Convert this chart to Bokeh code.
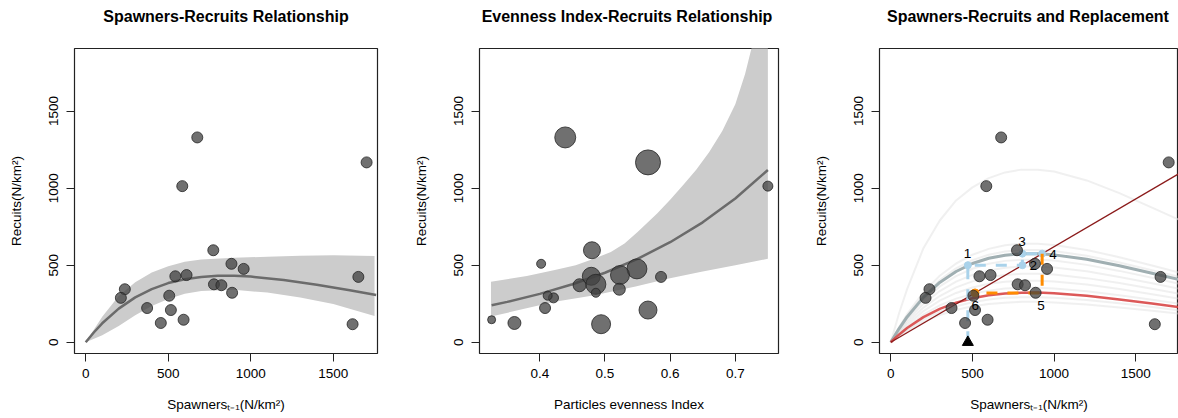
from bokeh.plotting import figure
from bokeh.layouts import row, column
from bokeh.models import Range1d, FixedTicker, ColumnDataSource
from bokeh.core.properties import value
from bokeh.embed import file_html
from bokeh.resources import INLINE

# ---------------- data ----------------
spawners = [676, 585, 1702, 773, 883, 957, 611, 543, 777, 822, 887, 1652, 237, 213, 506, 372, 516, 593, 455, 1617]
recruits = [1329, 1013, 1167, 597, 509, 476, 436, 428, 376, 370, 321, 424, 344, 288, 302, 222, 209, 146, 125, 117]
evenness = [0.439, 0.750, 0.566, 0.480, 0.402, 0.549, 0.523, 0.479, 0.486, 0.461, 0.486, 0.586, 0.522, 0.421, 0.412, 0.408, 0.566, 0.326, 0.361, 0.494]
bubble_px = [21, 10, 25, 17, 9, 20, 19, 18, 20, 13, 9, 11, 12, 10, 9, 11, 18, 8, 13, 19]

# panel 1: fitted curve and band
sr_fit_s = [0, 50, 100, 200, 300, 400, 500, 600, 700, 800, 900, 1000, 1200, 1400, 1600, 1760]
sr_fit_r = [0, 65, 123, 218, 291, 345, 384, 409, 424, 431, 431, 426, 404, 373, 337, 307]
sr_band_s = [0, 100, 200, 300, 400, 500, 600, 700, 900, 1100, 1300, 1500, 1750]
sr_band_lo = [0, 45, 105, 175, 235, 280, 315, 332, 340, 322, 290, 248, 170]
sr_band_hi = [0, 165, 300, 390, 452, 493, 523, 537, 548, 555, 562, 565, 560]

# panel 2: fitted curve and band
ev_fit_e = [0.326, 0.35, 0.40, 0.45, 0.50, 0.55, 0.60, 0.65, 0.70, 0.75]
ev_fit_r = [240, 262, 314, 376, 451, 541, 649, 778, 933, 1118]
ev_hi_e = [0.325, 0.38, 0.423, 0.455, 0.484, 0.509, 0.53, 0.55, 0.58, 0.60, 0.62, 0.64, 0.66,
           0.68, 0.70, 0.715, 0.725, 0.74, 0.75]
ev_hi_r = [392, 430, 468, 500, 543, 586, 640, 716, 835, 925, 1020, 1120, 1235,
           1370, 1545, 1740, 1910, 2180, 2400]
ev_lo_e = [0.325, 0.423, 0.484, 0.547, 0.598, 0.648, 0.70, 0.75]
ev_lo_r = [167, 262, 305, 362, 413, 457, 500, 541]

# panel 3: curves
grid_s = [0, 50, 100, 200, 300, 400, 500, 600, 700, 800, 900, 1000, 1200, 1400, 1600, 1760]
boot_high = [0, 185, 345, 610, 790, 920, 1005, 1065, 1102, 1120, 1120, 1108, 1050, 968, 873, 797]
boot_curves = [
    [0, 96, 182, 324, 431, 511, 568, 606, 629, 639, 639, 631, 599, 552, 498, 454],
    [0, 90, 171, 303, 404, 479, 533, 568, 589, 599, 599, 592, 561, 517, 467, 426],
    [0, 81, 153, 271, 362, 429, 477, 509, 528, 536, 536, 530, 502, 463, 418, 381],
    [0, 74, 140, 249, 332, 393, 437, 466, 483, 491, 491, 485, 460, 424, 383, 349],
    [0, 67, 127, 225, 300, 356, 395, 422, 437, 444, 444, 439, 416, 384, 347, 316],
    [0, 60, 114, 202, 270, 320, 355, 379, 393, 399, 399, 394, 374, 345, 312, 284],
    [0, 53, 101, 179, 239, 283, 314, 335, 348, 353, 353, 349, 331, 305, 276, 251],
    [0, 44, 83, 148, 198, 234, 260, 278, 288, 292, 292, 289, 274, 253, 228, 208],
    [0, 39, 74, 132, 177, 209, 233, 248, 257, 262, 262, 258, 245, 226, 204, 186],
]
main_fit = [0, 87, 164, 291, 388, 459, 511, 545, 565, 574, 574, 567, 538, 496, 448, 408]
red_fit = [0, 49, 92, 163, 217, 257, 286, 305, 316, 321, 322, 318, 301, 278, 251, 229]
repl_s = [0, 1760]
repl_r = [0, 1091]
cob_blue_s = [472, 472, 806, 806, 927]
cob_blue_r = [0, 500, 500, 575, 575]
cob_blue_dot_s = [472, 806, 806, 927]
cob_blue_dot_r = [500, 500, 575, 575]
cob_orange_s = [927, 927, 516]
cob_orange_r = [575, 320, 320]
cob_orange_dot_s = [516]
cob_orange_dot_r = [320]
start_s = [472]
start_r = [0]
step_labels = ["1", "2", "3", "4", "5", "6"]
step_s = [470, 873, 803, 993, 920, 517]
step_r = [576, 500, 651, 571, 240, 236]

titles = ["Spawners-Recruits Relationship", "Evenness Index-Recruits Relationship",
          "Spawners-Recruits and Replacement"]
sr_ticks = [0, 500, 1000, 1500]
ev_ticks = [0.4, 0.5, 0.6, 0.7]
r_ticks = [0, 500, 1000, 1500]

FONT = "Liberation Sans"
TITLE_H = 30
H = 418 - TITLE_H


def title_fig(title, xr, width, bl, br):
    t = figure(width=width, height=TITLE_H, x_range=Range1d(*xr), y_range=Range1d(0, TITLE_H),
               output_backend="svg", toolbar_location=None, x_axis_type=None, y_axis_type=None,
               min_border_left=bl, min_border_right=br, min_border_top=0, min_border_bottom=0)
    t.outline_line_color = None
    t.xgrid.visible = False
    t.ygrid.visible = False
    t.background_fill_color = "white"
    t.border_fill_color = "white"
    src = ColumnDataSource(dict(x=[(xr[0] + xr[1]) / 2], y=[TITLE_H - 16], t=[title]))
    t.text(x="x", y="y", text="t", source=src, text_font=value(FONT), text_font_size="16px",
           text_font_style="bold", text_align="center", text_baseline="middle", text_color="black")
    return t


def make_fig(xr, width, bl, br, xticks, xlabel):
    p = figure(width=width, height=H, x_range=Range1d(*xr), y_range=Range1d(-73, 1906),
               output_backend="svg", toolbar_location=None,
               min_border_left=bl, min_border_right=br, min_border_top=48 - TITLE_H, min_border_bottom=65)
    p.background_fill_color = "white"
    p.border_fill_color = "white"
    p.outline_line_color = "#222222"
    p.outline_line_width = 1.2
    p.xgrid.visible = False
    p.ygrid.visible = False
    for ax in (p.xaxis, p.yaxis):
        ax.axis_line_color = None
        ax.minor_tick_line_color = None
        ax.major_tick_in = 0
        ax.major_tick_out = 8
        ax.major_tick_line_color = "#222222"
        ax.major_label_text_font = FONT
        ax.major_label_text_font_size = "13.5px"
        ax.major_label_text_color = "black"
        ax.axis_label_text_font = FONT
        ax.axis_label_text_font_size = "13.5px"
        ax.axis_label_text_font_style = "normal"
        ax.axis_label_text_color = "black"
    p.xaxis.ticker = FixedTicker(ticks=xticks)
    p.yaxis.ticker = FixedTicker(ticks=r_ticks)
    p.yaxis.major_label_orientation = "vertical"
    p.xaxis.axis_label = xlabel
    p.yaxis.axis_label = "Recuits(N/km²)"
    p.xaxis.major_label_standoff = 7
    p.xaxis.axis_label_standoff = 16
    p.yaxis.major_label_standoff = 8
    p.yaxis.axis_label_standoff = 23
    return p


PT = dict(fill_color="#404040", fill_alpha=0.75, line_color="#262626", line_alpha=0.8, line_width=1)
xlab_s = "Spawnersₜ₋₁(N/km²)"

xr1, xr2, xr3 = (-68, 1768), (0.3074, 0.7663), (-69, 1762)
geo1, geo2, geo3 = (410, 74, 33), (400, 65, 32), (368, 67, 0)

# ---------------- panel 1 ----------------
p1 = make_fig(xr1, *geo1, sr_ticks, xlab_s)
p1.varea(x=sr_band_s, y1=sr_band_lo, y2=sr_band_hi, fill_color="#cccccc")
p1.line(sr_fit_s, sr_fit_r, line_color="#6b6b6b", line_width=2.5)
p1.scatter(spawners, recruits, size=11, **PT)

# ---------------- panel 2 ----------------
p2 = make_fig(xr2, *geo2, ev_ticks, "Particles evenness Index")
band_x = ev_hi_e + ev_lo_e[::-1]
band_y = ev_hi_r + ev_lo_r[::-1]
p2.patch(band_x, band_y, fill_color="#cccccc", line_color=None)
p2.line(ev_fit_e, ev_fit_r, line_color="#6b6b6b", line_width=2.5)
p2.scatter(evenness, recruits, size=bubble_px, **PT)

# ---------------- panel 3 ----------------
p3 = make_fig(xr3, *geo3, sr_ticks, xlab_s)
p3.line(grid_s, boot_high, line_color="#e6e6e6", line_alpha=0.6, line_width=2)
for c in boot_curves:
    p3.line(grid_s, c, line_color="#dedede", line_alpha=0.45, line_width=2)
p3.line(grid_s, main_fit, line_color="#a0afb2", line_width=3)
p3.line(grid_s, red_fit, line_color="#d63c3c", line_alpha=0.85, line_width=2.5)
p3.line(repl_s, repl_r, line_color="#8b1a1a", line_width=1.3)
p3.line(cob_blue_s, cob_blue_r, line_color="#a9d2ea", line_width=3, line_dash="11 10")
p3.scatter(cob_blue_dot_s, cob_blue_dot_r, size=7, fill_color="#a9d2ea", line_color="#a9d2ea")
p3.line(cob_orange_s, cob_orange_r, line_color="#ff8c00", line_width=3, line_dash="11 10")
p3.scatter(cob_orange_dot_s, cob_orange_dot_r, size=8, fill_color="#ff8c00", line_color="#ff8c00")
p3.scatter(spawners, recruits, size=11, **PT)
p3.scatter(start_s, start_r, marker="triangle", size=11, fill_color="black", line_color="black")
lab_src = ColumnDataSource(dict(x=step_s, y=step_r, t=step_labels))
p3.text(x="x", y="y", text="t", source=lab_src, text_font=value(FONT), text_font_size="13.5px",
        text_align="center", text_baseline="middle", text_color="black")

t1 = title_fig(titles[0], xr1, *geo1)
t2 = title_fig(titles[1], xr2, *geo2)
t3 = title_fig(titles[2], xr3, *geo3)

layout = column(row(t1, t2, t3), row(p1, p2, p3))
open("out.html", "w").write(file_html(layout, INLINE))
